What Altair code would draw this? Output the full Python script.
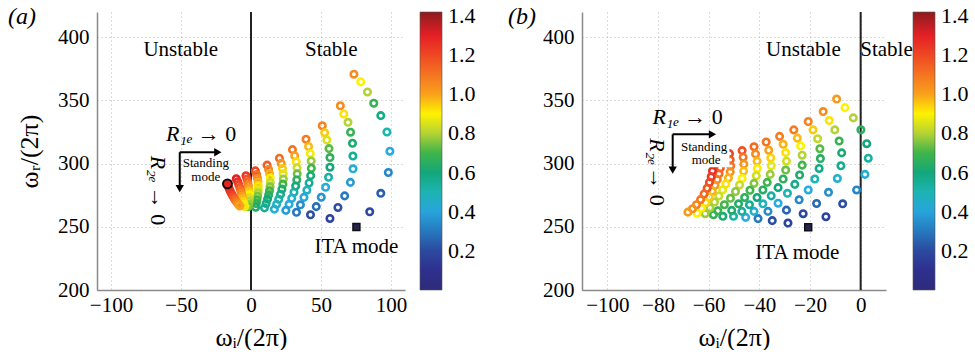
import altair as alt
import pandas as pd

FONT = "Liberation Serif"

# ---------------- colour bar (jet-like) ----------------
COLOR_STOPS = [0.0, 0.12, 0.22, 0.32, 0.42, 0.5, 0.6, 0.7, 0.8, 0.9, 1.0, 1.1, 1.2, 1.3, 1.42]
COLOR_RANGE = ["#2d2b79", "#2e3192", "#2c4fa3", "#2483c5", "#28abe0", "#1db4b4", "#12a77a",
               "#3fb54a", "#b3d235", "#fff200", "#f9a11b", "#f47421", "#ef4723", "#e42026", "#8c1b1f"]
CBAR_TICKS = [0.2, 0.4, 0.6, 0.8, 1.0, 1.2, 1.4]

# ---------------- panel (a): arcs, right to left ----------------
A_WI = [
    [73.5, 78.4, 83.2, 87.7, 92.7, 97.1, 99.2, 98.1, 92.7, 84.8],
    [63.8, 66.3, 69.3, 71.1, 72.5, 72.8, 72.9, 71.0, 66.9, 62.1, 56.4],
    [50.9, 52.6, 54.2, 55.7, 56.4, 56.4, 55.4, 53.3, 50.2, 46.6, 42.5],
    [39.3, 41.1, 42.3, 43.0, 43.1, 42.6, 41.5, 39.9, 37.8, 35.3, 32.5],
    [29.6, 31.2, 32.3, 32.9, 33.0, 32.7, 31.9, 30.7, 29.1, 27.2, 24.9],
    [20.3, 21.6, 22.5, 23.0, 23.1, 22.8, 22.1, 21.1, 19.8, 18.3, 16.7],
    [11.5, 12.6, 13.3, 13.7, 13.8, 13.6, 13.2, 12.6, 11.8, 10.8, 9.6],
    [3.1, 4.0, 4.6, 5.0, 5.2, 5.2, 5.0, 4.7, 4.3, 3.8, 3.3],
    [-3.6, -2.9, -2.3, -1.9, -1.6, -1.4, -1.3, -1.3, -1.4, -1.6, -1.9],
    [-10.5, -9.5, -8.7, -8.0, -7.4, -6.9, -6.4, -5.9, -5.4, -5.0, -4.5],
    [-17.0, -16.2, -15.4, -14.6, -13.7, -12.8, -11.9, -11.0, -10.0, -9.0, -8.0],
]
A_WR = [
    [370.8, 364.7, 356.7, 347.8, 338.0, 325.0, 309.8, 293.0, 276.5, 261.9],
    [345.8, 339.3, 332.7, 324.9, 316.1, 306.0, 295.9, 285.2, 274.5, 265.3, 256.6],
    [330.0, 324.5, 318.7, 311.9, 304.8, 297.2, 289.2, 281.3, 273.4, 266.0, 259.5],
    [319.3, 313.6, 307.9, 302.1, 296.3, 290.5, 284.7, 279.0, 273.3, 267.4, 261.5],
    [311.1, 306.3, 301.5, 296.7, 291.9, 287.1, 282.3, 277.4, 272.6, 267.8, 263.0],
    [304.3, 300.2, 296.1, 292.0, 287.9, 283.8, 279.8, 275.8, 271.8, 267.9, 264.0],
    [298.8, 295.4, 292.0, 288.6, 285.2, 281.8, 278.5, 275.2, 271.9, 268.5, 265.0],
    [294.3, 291.4, 288.5, 285.6, 282.7, 279.8, 276.9, 274.1, 271.2, 268.4, 265.5],
    [290.4, 287.9, 285.4, 282.9, 280.4, 277.9, 275.5, 273.0, 270.6, 268.3, 266.0],
    [288.0, 285.6, 283.3, 281.0, 278.8, 276.6, 274.4, 272.2, 270.1, 268.0, 266.0],
    [284.0, 281.8, 279.7, 277.7, 275.8, 274.0, 272.3, 270.7, 269.2, 267.8, 266.5],
]
A_C = [
    [1.05, 0.90, 0.80, 0.68, 0.58, 0.50, 0.42, 0.33, 0.25, 0.20],
    [1.05, 0.92, 0.80, 0.68, 0.62, 0.55, 0.45, 0.38, 0.30, 0.22, 0.18],
    [1.07, 0.95, 0.85, 0.72, 0.66, 0.60, 0.52, 0.44, 0.36, 0.28, 0.22],
    [1.08, 0.97, 0.88, 0.78, 0.70, 0.62, 0.55, 0.48, 0.41, 0.35, 0.30],
    [1.10, 1.00, 0.92, 0.83, 0.74, 0.66, 0.59, 0.52, 0.46, 0.42, 0.38],
    [1.12, 1.03, 0.95, 0.86, 0.78, 0.70, 0.63, 0.57, 0.52, 0.48, 0.45],
    [1.15, 1.06, 0.98, 0.90, 0.83, 0.76, 0.70, 0.65, 0.60, 0.57, 0.55],
    [1.20, 1.12, 1.05, 0.98, 0.92, 0.86, 0.80, 0.75, 0.70, 0.66, 0.63],
    [1.25, 1.18, 1.12, 1.06, 1.00, 0.95, 0.90, 0.85, 0.81, 0.78, 0.75],
    [1.30, 1.26, 1.21, 1.16, 1.11, 1.06, 1.01, 0.97, 0.94, 0.91, 0.88],
    [1.34, 1.32, 1.29, 1.26, 1.23, 1.19, 1.15, 1.11, 1.07, 1.03, 1.00],
]

# ---------------- panel (b): arcs, right to left ----------------
B_WI = [
    [-9.5, -6.2, -2.9, 0.1, 2.4, 3.0, 1.7, -1.6, -7.1, -13.7],
    [-14.8, -12.4, -10.2, -8.5, -7.5, -7.8, -9.2, -12.7, -17.4, -22.7, -28.7],
    [-20.7, -18.8, -17.0, -16.1, -15.9, -16.4, -18.1, -20.7, -24.3, -29.3, -34.9],
    [-26.4, -25.0, -23.7, -23.1, -23.1, -24.1, -26.0, -28.9, -32.6, -36.6, -40.5],
    [-32.0, -30.6, -29.6, -29.3, -29.6, -30.6, -32.6, -35.3, -38.6, -42.1, -45.4],
    [-37.3, -36.3, -35.5, -35.3, -35.7, -36.9, -38.6, -40.9, -43.9, -46.9, -50.2],
    [-42.1, -41.5, -40.9, -40.8, -41.2, -42.1, -43.7, -45.8, -48.2, -50.9, -54.4],
    [-46.8, -46.4, -46.1, -46.2, -46.8, -47.8, -49.4, -51.4, -53.8, -56.4, -58.1],
    [-51.8, -51.5, -51.3, -51.5, -52.2, -53.2, -54.5, -56.0, -57.7, -59.5, -61.4],
    [-55.2, -55.2, -55.4, -55.9, -56.6, -57.5, -58.6, -59.8, -61.2, -62.9, -64.6],
    [-57.9, -58.1, -58.5, -59.0, -59.7, -60.6, -61.8, -63.2, -64.8, -66.4, -68.2],
]
B_WR = [
    [351.1, 344.3, 336.2, 326.8, 315.8, 304.3, 291.5, 279.2, 268.2, 258.0],
    [341.2, 334.1, 326.7, 317.9, 308.5, 298.3, 288.3, 277.3, 268.5, 260.4, 253.0],
    [333.3, 326.7, 319.7, 311.8, 304.0, 296.2, 287.8, 279.2, 271.4, 263.2, 254.9],
    [326.7, 320.2, 314.0, 306.7, 298.8, 291.0, 283.6, 276.5, 268.7, 262.2, 256.5],
    [321.6, 315.3, 308.7, 302.0, 294.9, 287.8, 281.0, 274.5, 268.2, 262.2, 257.5],
    [317.1, 310.6, 304.5, 298.3, 291.5, 285.2, 279.2, 273.2, 267.5, 262.2, 258.3],
    [313.4, 307.7, 302.0, 296.2, 290.4, 284.4, 278.9, 273.2, 268.2, 263.0, 258.3],
    [310.3, 305.1, 299.6, 294.1, 288.3, 283.1, 277.9, 272.6, 267.5, 262.7, 259.6],
    [307.9, 303.0, 298.2, 293.5, 288.7, 284.0, 279.2, 274.4, 269.6, 265.0, 260.4],
    [305.5, 301.0, 296.5, 292.0, 287.4, 282.8, 278.2, 273.6, 269.2, 264.8, 260.8],
    [303.5, 299.0, 294.3, 289.6, 285.2, 280.5, 276.0, 271.5, 267.5, 264.3, 261.6],
]
B_C = [
    [1.02, 0.90, 0.80, 0.66, 0.60, 0.53, 0.45, 0.33, 0.22, 0.18],
    [1.05, 0.92, 0.80, 0.68, 0.62, 0.56, 0.45, 0.35, 0.27, 0.20, 0.18],
    [1.07, 0.95, 0.82, 0.72, 0.65, 0.58, 0.50, 0.42, 0.33, 0.26, 0.22],
    [1.08, 0.97, 0.90, 0.80, 0.70, 0.63, 0.57, 0.50, 0.42, 0.35, 0.30],
    [1.08, 0.98, 0.92, 0.84, 0.74, 0.66, 0.60, 0.54, 0.48, 0.45, 0.42],
    [1.10, 1.00, 0.94, 0.87, 0.78, 0.70, 0.65, 0.60, 0.56, 0.54, 0.52],
    [1.12, 1.05, 0.97, 0.91, 0.84, 0.76, 0.70, 0.66, 0.64, 0.63, 0.62],
    [1.18, 1.10, 1.03, 0.96, 0.90, 0.83, 0.77, 0.73, 0.70, 0.69, 0.68],
    [1.22, 1.16, 1.10, 1.04, 0.98, 0.92, 0.87, 0.83, 0.80, 0.79, 0.78],
    [1.27, 1.22, 1.17, 1.12, 1.07, 1.02, 0.98, 0.95, 0.93, 0.91, 0.90],
    [1.32, 1.30, 1.27, 1.24, 1.20, 1.17, 1.13, 1.10, 1.07, 1.04, 1.02],
]

# ---------------- special markers ----------------
A_STANDING = (-16.8, 284.0)
A_ITA = (75.3, 249.8)
B_ITA = (-20.7, 249.6)

# ---------------- annotations (data coordinates) ----------------
A_REGION_TEXT = {"t": ["Unstable", "Stable", "ITA mode"], "x": [-50.2, 57.3, 75.3], "y": [390.3, 390.3, 233.8]}
B_REGION_TEXT = {"t": ["Unstable", "Stable", "ITA mode"], "x": [-22.6, 10.2, -25.0], "y": [389.8, 389.8, 229.5]}
A_SMALL_TEXT = {"t": ["Standing", "mode"], "x": [-32.3, -32.3], "y": [300.6, 289.8]}
B_SMALL_TEXT = {"t": ["Standing", "mode"], "x": [-61.8, -61.0], "y": [313.4, 302.6]}
B_BOX = {"x": [-72.3], "x2": [-51.8], "y": [318.6], "y2": [297.2]}
# arrows: corner, horizontal head, vertical head
A_ARROW = {"cx": -50.9, "cy": 309.0, "hx": -23.7, "vy": 280.2}
B_ARROW = {"cx": -74.2, "cy": 323.2, "hx": -58.5, "vy": 294.8}
# R labels: (R1e right edge x, arrow-text left x, y), rotated (x, R2e end y, arrow-text start y)
A_R1 = (-41.6, -38.0, 323.4)
A_R2 = (-66.7, 284.9, 281.8)
B_R1 = (-71.6, -69.6, 337.2)
B_R2 = (-80.2, 298.8, 297.2)

Y_TICKS = [200, 250, 300, 350, 400]
A_X_TICKS = [-100, -50, 0, 50, 100]
B_X_TICKS = [-100, -80, -60, -40, -20, 0]


def frame(xs, ys, cs):
    rows = []
    for k, (ax, ay, ac) in enumerate(zip(xs, ys, cs)):
        for x, y, c in zip(ax, ay, ac):
            rows.append({"x": x, "y": y, "c": c, "arc": k})
    return pd.DataFrame(rows)


def panel(df, xdom, xticks, ytitle, legend_x, region, small, arrow, r1, r2, ita,
          standing=None, box=None, tag="(a)", tag_x=-75, width=308, height=278):
    xscale = alt.Scale(domain=xdom, nice=False, zero=False)
    yscale = alt.Scale(domain=[200, 420], nice=False, zero=False)
    xaxis = alt.Axis(values=xticks, title="ωᵢ/(2π)", labelFlush=False, labelOverlap=False,
                     grid=True, labelPadding=4, titlePadding=9)
    if ytitle:
        yaxis = alt.Axis(values=Y_TICKS, title=ytitle, labelFlush=False, labelOverlap=False,
                         grid=True, labelPadding=8, titlePadding=15)
    else:
        yaxis = alt.Axis(values=Y_TICKS, title=None, labelFlush=False, labelOverlap=False,
                         grid=True, labelPadding=8)
    X = alt.X("x:Q", scale=xscale, axis=xaxis)
    Y = alt.Y("y:Q", scale=yscale, axis=yaxis)

    layers = []
    zero = alt.Chart(pd.DataFrame({"x": [0.0]})).mark_rule(color="#222222", strokeWidth=2).encode(x=X)
    layers.append(zero)

    pts = alt.Chart(df).mark_point(filled=False, size=42, strokeWidth=2.6, opacity=1).encode(
        x=X, y=Y,
        color=alt.Color("c:Q",
                        scale=alt.Scale(domain=COLOR_STOPS, range=COLOR_RANGE, interpolate="rgb"),
                        legend=alt.Legend(orient="none", legendX=legend_x, legendY=0,
                                          direction="vertical", title=None,
                                          gradientLength=height, gradientThickness=22,
                                          values=CBAR_TICKS, format=".1f",
                                          labelFont=FONT, labelFontSize=22, labelColor="black",
                                          labelOffset=6, labelOverlap=False, padding=0,
                                          gradientStrokeColor="#555555", gradientStrokeWidth=0.6)),
    )
    layers.append(pts)

    if box is not None:
        layers.append(alt.Chart(pd.DataFrame(box)).mark_rect(color="white", opacity=1).encode(
            x=X, x2="x2:Q", y=Y, y2="y2:Q"))

    if standing is not None:
        layers.append(alt.Chart(pd.DataFrame({"x": [standing[0]], "y": [standing[1]]})).mark_point(
            shape="circle", filled=True, fill="#e8231f", stroke="#111111", strokeWidth=2,
            size=80, opacity=1).encode(x=X, y=Y))

    layers.append(alt.Chart(pd.DataFrame({"x": [ita[0]], "y": [ita[1]]})).mark_point(
        shape="square", filled=True, fill="#25244f", stroke="#111111", strokeWidth=1.5,
        size=48, opacity=1).encode(x=X, y=Y))

    # arrows
    lines = pd.DataFrame({"x": [arrow["cx"], arrow["cx"]], "y": [arrow["cy"], arrow["cy"]],
                          "x2": [arrow["hx"], arrow["cx"]], "y2": [arrow["cy"], arrow["vy"]]})
    layers.append(alt.Chart(lines).mark_rule(color="black", strokeWidth=2).encode(
        x=X, y=Y, x2="x2:Q", y2="y2:Q"))
    heads = pd.DataFrame({"x": [arrow["hx"], arrow["cx"]], "y": [arrow["cy"], arrow["vy"]],
                          "s": ["triangle-right", "triangle-down"]})
    layers.append(alt.Chart(heads).mark_point(filled=True, color="black", size=70, opacity=1).encode(
        x=X, y=Y, shape=alt.Shape("s:N", scale=None)))

    # texts
    layers.append(alt.Chart(pd.DataFrame(region)).mark_text(
        font=FONT, fontSize=21, color="black", baseline="middle").encode(x=X, y=Y, text="t:N"))
    layers.append(alt.Chart(pd.DataFrame(small)).mark_text(
        font=FONT, fontSize=13, color="black", baseline="middle").encode(x=X, y=Y, text="t:N"))
    layers.append(alt.Chart(pd.DataFrame({"x": [r1[0]], "y": [r1[2]], "t": ["R₁ₑ"]})).mark_text(
        font=FONT, fontSize=22, fontStyle="italic", color="black", align="right",
        baseline="middle").encode(x=X, y=Y, text="t:N"))
    layers.append(alt.Chart(pd.DataFrame({"x": [r1[1]], "y": [r1[2]], "t": ["→ 0"]})).mark_text(
        font=FONT, fontSize=22, color="black", align="left",
        baseline="middle").encode(x=X, y=Y, text="t:N"))
    layers.append(alt.Chart(pd.DataFrame({"x": [r2[0]], "y": [r2[1]], "t": ["R₂ₑ"]})).mark_text(
        font=FONT, fontSize=22, fontStyle="italic", color="black", align="right", angle=90,
        baseline="middle").encode(x=X, y=Y, text="t:N"))
    layers.append(alt.Chart(pd.DataFrame({"x": [r2[0]], "y": [r2[2]], "t": ["→ 0"]})).mark_text(
        font=FONT, fontSize=22, color="black", align="left", angle=90,
        baseline="middle").encode(x=X, y=Y, text="t:N"))
    layers.append(alt.Chart(pd.DataFrame({"t": [tag]})).mark_text(
        font=FONT, fontSize=24, fontStyle="italic", color="black", align="center",
        baseline="middle").encode(x=alt.value(tag_x), y=alt.value(5), text="t:N"))

    return alt.layer(*layers).properties(width=width, height=height)


df_a = frame(A_WI, A_WR, A_C)
df_b = frame(B_WI, B_WR, B_C)

pa = panel(df_a, [-110, 110], A_X_TICKS, "ωᵣ/(2π)", 323, A_REGION_TEXT, A_SMALL_TEXT,
           A_ARROW, A_R1, A_R2, A_ITA, standing=A_STANDING, tag="(a)", tag_x=-75, width=308)
pb = panel(df_b, [-110, 10], B_X_TICKS, None, 331, B_REGION_TEXT, B_SMALL_TEXT,
           B_ARROW, B_R1, B_R2, B_ITA, box=B_BOX, tag="(b)", tag_x=-60, width=304)

chart = alt.hconcat(pa, pb, spacing=177, bounds="flush").resolve_scale(
    color="independent"
).properties(
    padding={"left": 8, "top": 5, "right": 0, "bottom": 0}
).configure_view(stroke=None).configure_axis(
    labelFont=FONT, labelFontSize=21, labelColor="black",
    titleFont=FONT, titleFontSize=26, titleColor="black", titleFontWeight="normal",
    domainColor="#8a8a8a", domainWidth=1.5, ticks=False,
    gridColor="#b8b8b8", gridDash=[1, 3], gridWidth=1,
)

chart.save("out.html", embed_options={"renderer": "svg", "actions": False})
